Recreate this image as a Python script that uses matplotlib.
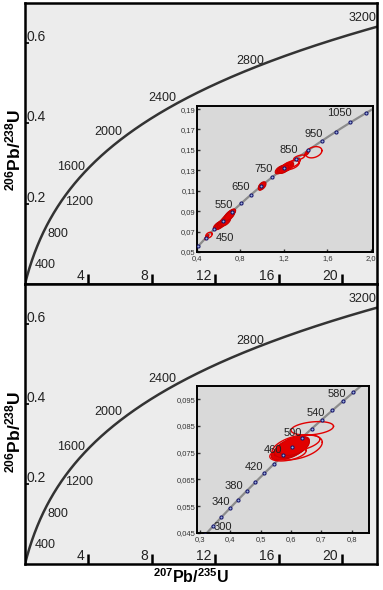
import numpy as np
import matplotlib
matplotlib.use('Agg')
from matplotlib import pyplot as plt

plt.rcParams['font.family'] = ['Liberation Sans', 'DejaVu Sans']
plt.rcParams['mathtext.fontset'] = 'custom'
plt.rcParams['mathtext.rm'] = 'Liberation Sans'
plt.rcParams['mathtext.bf'] = 'Liberation Sans:bold'

# decay constants (1/Ma)
L238 = 1.55125e-4
L235 = 9.8485e-4

# main concordia age labels (Ma)
main_ages = [400, 800, 1200, 1600, 2000, 2400, 2800, 3200]
main_xticks = [4, 8, 12, 16, 20]
main_yticks = [0.2, 0.4, 0.6]

# inset 1 (top)
top_dot_ages = [350, 400, 450, 500, 550, 600, 650, 700, 750, 800, 850, 900, 950, 1000, 1050, 1100]
top_label_ages = [450, 550, 650, 750, 850, 950, 1050]
top_xticks = [0.4, 0.8, 1.2, 1.6, 2.0]
top_xlabels = ['0,4', '0,8', '1,2', '1,6', '2,0']
top_yticks = [0.05, 0.07, 0.09, 0.11, 0.13, 0.15, 0.17, 0.19]
top_ylabels = ['0,05', '0,07', '0,09', '0,11', '0,13', '0,15', '0,17', '0,19']

# ellipses: x, y, half-width, half-height, correlation, filled
top_ell_x = [0.49, 0.51, 0.59, 0.61, 0.63, 0.645, 0.66, 0.675, 0.685, 0.70, 0.715, 0.72, 0.665, 0.70,
             0.99, 1.00, 1.165, 1.19, 1.21, 1.23, 1.245, 1.22, 1.20, 1.265, 1.30, 1.34, 1.41, 1.475]
top_ell_y = [0.0645, 0.0665, 0.0755, 0.0765, 0.0780, 0.0795, 0.0815, 0.0830, 0.0845, 0.0865, 0.0880, 0.0885, 0.0800, 0.0855,
             0.1140, 0.1148, 0.1305, 0.1315, 0.1320, 0.1330, 0.1340, 0.1335, 0.1310, 0.1350, 0.1375, 0.1425, 0.1465, 0.1477]
top_ell_sx = [0.018, 0.03, 0.04, 0.045, 0.045, 0.045, 0.045, 0.045, 0.045, 0.045, 0.04, 0.035, 0.045, 0.045,
              0.025, 0.035, 0.045, 0.05, 0.05, 0.05, 0.045, 0.045, 0.045, 0.075, 0.05, 0.05, 0.02, 0.075]
top_ell_sy = [0.0025, 0.0028, 0.0040, 0.0045, 0.0045, 0.0045, 0.0045, 0.0045, 0.0045, 0.0045, 0.0040, 0.0035, 0.0045, 0.0045,
              0.0035, 0.0040, 0.0040, 0.0042, 0.0042, 0.0042, 0.0040, 0.0040, 0.0040, 0.0045, 0.0042, 0.0025, 0.0020, 0.0055]
top_ell_rho = [0.7, 0.4, 0.6, 0.6, 0.6, 0.6, 0.6, 0.6, 0.6, 0.6, 0.6, 0.6, 0.6, 0.6,
               0.5, 0.5, 0.55, 0.55, 0.55, 0.55, 0.55, 0.55, 0.55, 0.5, 0.6, 0.6, 0.7, 0.3]
top_ell_fill = [1, 0, 1, 1, 1, 1, 1, 1, 1, 1, 1, 1, 1, 1,
                1, 1, 1, 1, 1, 1, 1, 1, 1, 0, 0, 0, 1, 0]

# inset 2 (bottom)
bot_dot_ages = [280, 300, 320, 340, 360, 380, 400, 420, 440, 460, 480, 500, 520, 540, 560, 580, 600]
bot_label_ages = [300, 340, 380, 420, 460, 500, 540, 580]
bot_xticks = [0.3, 0.4, 0.5, 0.6, 0.7, 0.8]
bot_xlabels = ['0,3', '0,4', '0,5', '0,6', '0,7', '0,8']
bot_yticks = [0.045, 0.055, 0.065, 0.075, 0.085, 0.095]
bot_ylabels = ['0,045', '0,055', '0,065', '0,075', '0,085', '0,095']

bot_ell_x = [0.570, 0.580, 0.595, 0.600, 0.615, 0.625, 0.610, 0.670, 0.620, 0.590, 0.630]
bot_ell_y = [0.0748, 0.0752, 0.0760, 0.0768, 0.0780, 0.0790, 0.0775, 0.0841, 0.0770, 0.0747, 0.0785]
bot_ell_sx = [0.03, 0.045, 0.05, 0.055, 0.045, 0.035, 0.05, 0.07, 0.083, 0.06, 0.065]
bot_ell_sy = [0.0022, 0.0030, 0.0035, 0.0037, 0.0030, 0.0020, 0.0035, 0.0025, 0.0047, 0.0028, 0.0030]
bot_ell_rho = [0.5, 0.5, 0.5, 0.45, 0.4, 0.4, 0.4, 0.3, 0.4, 0.4, 0.5]
bot_ell_fill = [1, 1, 1, 1, 1, 1, 1, 0, 0, 0, 0]

# label offsets in pixels (dx, dy)
main_offsets = [(13, -7), (14, -3), (18, 0), (-15, 4), (-14, 6), (-15, 5), (-9, 5), (-17, 8)]
top_offsets = [(11, -9), (-8, 7), (-10, 8), (-9, 8), (-7, 9), (-8, 7), (-11, 9)]
bot_offsets = [(10, -1), (-9, 6), (-13, 5), (-10, 6), (-10, 5), (-9, 5), (-6, 7), (-6, 7)]

RED = '#e10000'


def conc(t):
    t = np.asarray(t, dtype=float)
    return np.exp(L235 * t) - 1, np.exp(L238 * t) - 1


def ellipse(cx, cy, sx, sy, rho):
    th = np.linspace(0, 2 * np.pi, 80)
    x = cx + sx * np.cos(th)
    y = cy + sy * (rho * np.cos(th) + np.sqrt(1 - rho ** 2) * np.sin(th))
    return x, y


def draw_main(ax):
    ax.set_facecolor('#ececec')
    t = np.linspace(0, 3400, 800)
    x, y = conc(t)
    ax.plot(x, y, color='#333333', lw=1.8)
    ax.set_xlim(0, 22.2)
    ax.set_ylim(0, 0.70)
    for a, off in zip(main_ages, main_offsets):
        cx, cy = conc(a)
        ax.annotate(str(a), (cx, cy), xytext=off, textcoords='offset pixels', annotation_clip=False,
                    ha='center', va='center', fontsize=9, color='#222222')
    ax.set_xticks(main_xticks)
    ax.set_yticks(main_yticks)
    ax.tick_params(axis='x', direction='in', length=7, width=1.8, labelbottom=False)
    ax.tick_params(axis='y', direction='in', length=3, width=1.2, labelleft=False)
    for v in main_xticks:
        ax.annotate(str(v), (v, 0), xycoords=ax.get_xaxis_transform(), xytext=(-4, 1),
                    textcoords='offset pixels', ha='right', va='bottom', fontsize=10, color='#222222')
    for v in main_yticks:
        ax.annotate(str(v), (0, v), xycoords=ax.get_yaxis_transform(), xytext=(1, -1),
                    textcoords='offset pixels', ha='left', va='bottom', fontsize=10, color='#222222')
    for s in ax.spines.values():
        s.set_linewidth(1.8)


def draw_inset(ax, tmin, tmax, dots, lab_ages, offs, xt, xl, yt, yl, xlim, ylim,
               ex, ey, esx, esy, erho, efill):
    ax.set_facecolor('#d9d9d9')
    t = np.linspace(tmin, tmax, 300)
    x, y = conc(t)
    ax.plot(x, y, color='#8c8c8c', lw=1.6, zorder=1)
    for i in range(len(ex)):
        px, py = ellipse(ex[i], ey[i], esx[i], esy[i], erho[i])
        if efill[i]:
            ax.fill(px, py, facecolor=RED, edgecolor='#c80000', lw=0.8, zorder=2)
        else:
            ax.plot(px, py, color=RED, lw=1.0, zorder=2)
    dx, dy = conc(dots)
    ax.plot(dx, dy, 'o', ms=2.2, mfc='#9fb4e0', mec='#1a1a6e', mew=0.8, zorder=3)
    for a, off in zip(lab_ages, offs):
        cx, cy = conc(a)
        ax.annotate(str(a), (cx, cy), xytext=off, textcoords='offset pixels',
                    ha='center', va='center', fontsize=8, color='#222222', zorder=4)
    ax.set_xlim(*xlim)
    ax.set_ylim(*ylim)
    ax.set_xticks(xt)
    ax.set_xticklabels(xl)
    ax.set_yticks(yt)
    ax.set_yticklabels(yl)
    ax.tick_params(direction='in', length=2, width=1, labelsize=5.5, colors='#333333')
    ax.tick_params(axis='x', pad=2)
    ax.tick_params(axis='y', pad=1)
    for s in ax.spines.values():
        s.set_linewidth(1.4)


fig = plt.figure(figsize=(3.83, 5.90), dpi=100)

ax1 = fig.add_axes([25 / 383, 306 / 590, 352 / 383, 281 / 590])
draw_main(ax1)
ax2 = fig.add_axes([25 / 383, 26 / 590, 352 / 383, 280 / 590])
draw_main(ax2)

in1 = fig.add_axes([197 / 383, 338 / 590, 176 / 383, 146 / 590])
draw_inset(in1, 300, 1150, top_dot_ages, top_label_ages, top_offsets,
           top_xticks, top_xlabels, top_yticks, top_ylabels, (0.4, 2.02), (0.05, 0.193),
           top_ell_x, top_ell_y, top_ell_sx, top_ell_sy, top_ell_rho, top_ell_fill)

in2 = fig.add_axes([197 / 383, 57 / 590, 172 / 383, 147 / 590])
draw_inset(in2, 260, 640, bot_dot_ages, bot_label_ages, bot_offsets,
           bot_xticks, bot_xlabels, bot_yticks, bot_ylabels, (0.29, 0.857), (0.045, 0.0999),
           bot_ell_x, bot_ell_y, bot_ell_sx, bot_ell_sy, bot_ell_rho, bot_ell_fill)

ylab = r'$\mathbf{{}^{206}Pb/{}^{238}U}$'
fig.text(13 / 383, 1 - 150 / 590, ylab, rotation=90, ha='center', va='center', fontsize=12.5)
fig.text(13 / 383, 1 - 432 / 590, ylab, rotation=90, ha='center', va='center', fontsize=12.5)
fig.text(191 / 383, 1 - 577 / 590, r'$\mathbf{{}^{207}Pb/{}^{235}U}$', ha='center', va='center', fontsize=11.5)

fig.savefig('out.png', dpi=100)
